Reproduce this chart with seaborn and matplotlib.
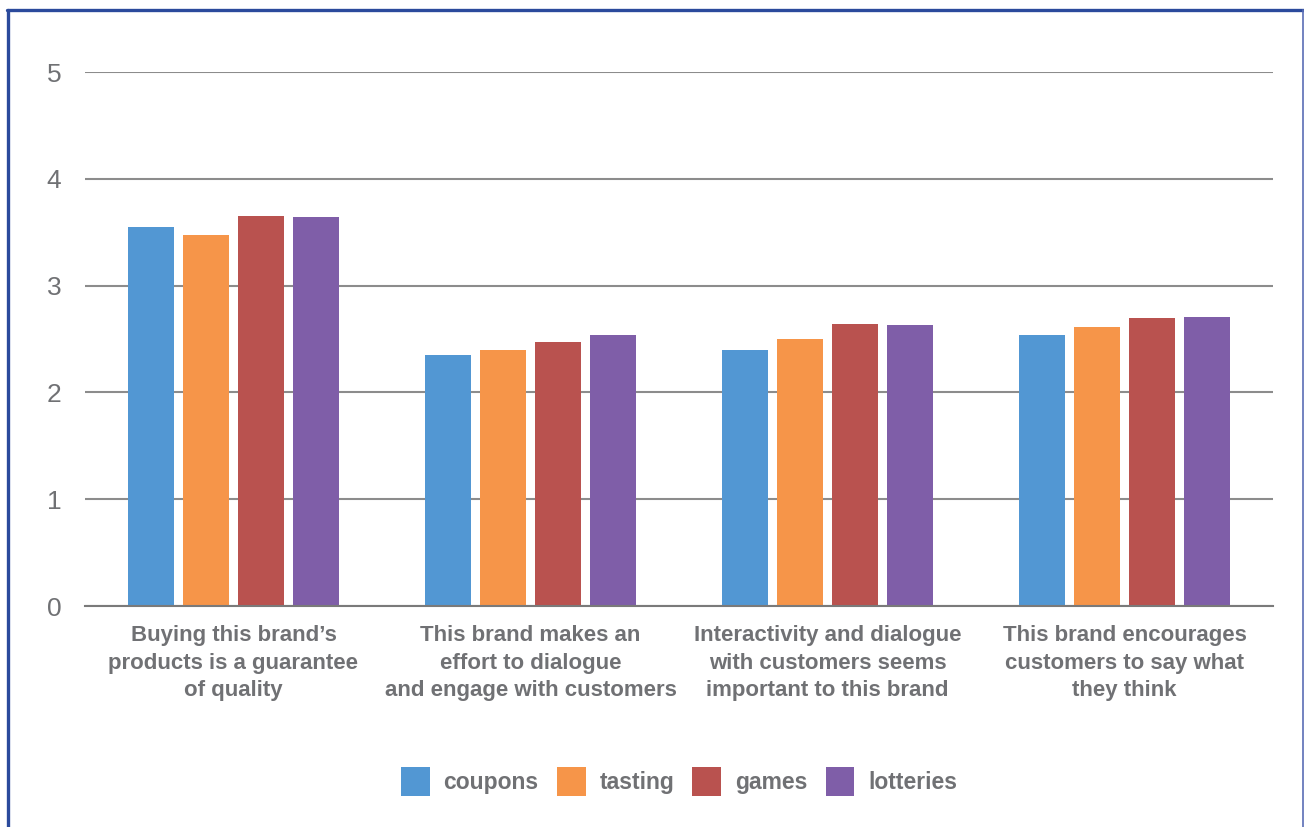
import matplotlib
matplotlib.use("Agg")
import matplotlib.pyplot as plt
from matplotlib.lines import Line2D
import seaborn as sns
import pandas as pd

categories = [
    "Buying this brand\u2019s\nproducts is a guarantee\nof quality",
    "This brand makes an\neffort to dialogue\nand engage with customers",
    "Interactivity and dialogue\nwith customers seems\nimportant to this brand",
    "This brand encourages\ncustomers to say what\nthey think",
]
series_names = ["coupons", "tasting", "games", "lotteries"]
coupons = [3.55, 2.35, 2.40, 2.54]
tasting = [3.47, 2.40, 2.50, 2.61]
games = [3.65, 2.47, 2.64, 2.70]
lotteries = [3.64, 2.54, 2.63, 2.71]
y_ticks = [0, 1, 2, 3, 4, 5]

colors = ["#5297D3", "#F69549", "#B9524F", "#7F5EA8"]
text_gray = "#707174"

rows = []
for name, vals in zip(series_names, [coupons, tasting, games, lotteries]):
    for cat, v in zip(categories, vals):
        rows.append({"category": cat, "series": name, "value": v})
df = pd.DataFrame(rows)

sns.set_theme(style="white")
plt.rcParams["font.family"] = ["Liberation Sans", "DejaVu Sans"]

W, H = 1304, 827
fig = plt.figure(figsize=(W / 100, H / 100), dpi=100)
ax = fig.add_axes([85 / W, 1 - 606 / H, (1273 - 85) / W, (606 - 72) / H])

sns.barplot(data=df, x="category", y="value", hue="series", order=categories,
            hue_order=series_names, palette=colors, width=0.74, gap=0.16,
            saturation=1, ax=ax, zorder=3, linewidth=0)

ax.set_ylim(0, 5)
ax.set_xlim(-0.5, 3.5)
ax.set_yticks(y_ticks)
ax.yaxis.grid(True, color="#8c8c8c", linewidth=1.5, zorder=0)
ax.set_axisbelow(True)
for s in ["left", "right", "top"]:
    ax.spines[s].set_visible(False)
ax.spines["bottom"].set_color("#7a7a7a")
ax.spines["bottom"].set_linewidth(1.5)
ax.spines["bottom"].set_zorder(5)
ax.set_xlabel("")
ax.set_ylabel("")
ax.tick_params(axis="y", length=0, pad=17, labelsize=19, labelcolor=text_gray)
ax.tick_params(axis="x", length=0, pad=14, labelsize=16, labelcolor=text_gray)
for lbl in ax.get_xticklabels():
    lbl.set_fontweight("bold")
    lbl.set_linespacing(1.4)

leg = ax.legend(loc="center", bbox_to_anchor=(0.5, -0.328), ncol=4, frameon=False,
                prop={"weight": "bold", "size": 16.5}, handlelength=1.25,
                handleheight=1.55, handletextpad=0.6, columnspacing=0.8)
for t in leg.get_texts():
    t.set_color(text_gray)

# frame border
border = "#2B4A9C"
fig.add_artist(Line2D([7 / W, 1 - 0.5 / W], [1 - 10 / H, 1 - 10 / H], color=border, linewidth=2.4, transform=fig.transFigure))
fig.add_artist(Line2D([8 / W, 8 / W], [0, 1 - 10 / H], color=border, linewidth=2.4, transform=fig.transFigure))
fig.add_artist(Line2D([1 - 1.5 / W, 1 - 1.5 / W], [0, 1 - 10 / H], color="#5a6db5", linewidth=1.2, transform=fig.transFigure))

fig.savefig("out.png", dpi=100, facecolor="white")
